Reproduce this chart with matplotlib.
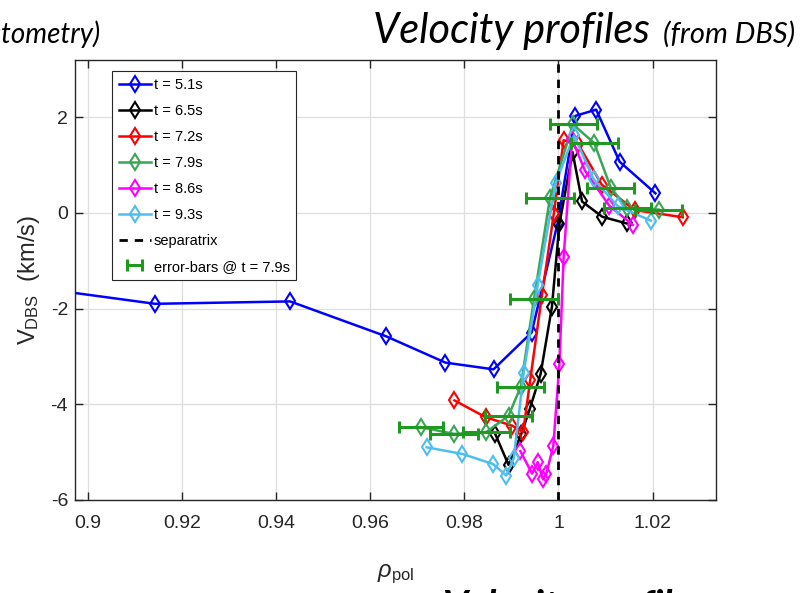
import matplotlib
matplotlib.use('Agg')
import matplotlib.pyplot as plt

# Velocity profiles from DBS, one series per time slice
rho_51 = [0.888, 0.9143, 0.9430, 0.9634, 0.9760, 0.9862, 0.9943, 0.9998, 1.0036, 1.0080, 1.0130, 1.0206]
v_51 = [-1.55, -1.90, -1.85, -2.58, -3.13, -3.27, -2.50, -0.22, 2.03, 2.16, 1.07, 0.41]

rho_65 = [0.9866, 0.9894, 0.9921, 0.9939, 0.9962, 0.9986, 1.0002, 1.0030, 1.0050, 1.0093, 1.0145]
v_65 = [-4.63, -5.27, -4.62, -4.10, -3.37, -1.97, -0.23, 1.27, 0.24, -0.08, -0.22]

rho_72 = [0.9779, 0.9845, 0.9902, 0.9925, 0.9940, 0.9965, 0.9990, 1.0011, 1.0042, 1.0092, 1.0162, 1.0264]
v_72 = [-3.92, -4.27, -4.45, -4.58, -3.49, -1.71, -0.02, 1.52, 1.44, 0.59, 0.06, -0.09]

rho_79 = [0.9708, 0.9778, 0.9847, 0.9894, 0.9920, 0.9948, 0.9982, 1.0031, 1.0076, 1.0111, 1.0146, 1.0213]
v_79 = [-4.48, -4.62, -4.58, -4.24, -3.63, -1.80, 0.32, 1.85, 1.46, 0.53, 0.10, 0.07]
err_79 = [0.0047, 0.005, 0.005, 0.005, 0.005, 0.005, 0.005, 0.005, 0.005, 0.005, 0.005, 0.005]

rho_86 = [0.9919, 0.9944, 0.9956, 0.9967, 0.9974, 0.9989, 1.0002, 1.0011, 1.0029, 1.0056, 1.0108, 1.0158]
v_86 = [-4.98, -5.45, -5.21, -5.57, -5.46, -4.87, -3.16, -0.92, 1.54, 0.89, 0.15, -0.25]

rho_93 = [0.9720, 0.9796, 0.9861, 0.9889, 0.9905, 0.9926, 0.9956, 0.9994, 1.0033, 1.0075, 1.0126, 1.0196]
v_93 = [-4.90, -5.04, -5.25, -5.49, -5.13, -3.35, -1.50, 0.63, 1.62, 0.70, 0.14, -0.16]

series = [
    (rho_51, v_51, '#0000ff', 't = 5.1s'),
    (rho_65, v_65, '#000000', 't = 6.5s'),
    (rho_72, v_72, '#ff0000', 't = 7.2s'),
    (rho_79, v_79, '#3aa655', 't = 7.9s'),
    (rho_86, v_86, '#ff00ff', 't = 8.6s'),
    (rho_93, v_93, '#4dbeee', 't = 9.3s'),
]

x_ticks = [0.9, 0.92, 0.94, 0.96, 0.98, 1.0, 1.02]
x_tick_labels = ['0.9', '0.92', '0.94', '0.96', '0.98', '1', '1.02']
y_ticks = [-6, -4, -2, 0, 2]

plt.rcParams['font.family'] = ['Liberation Sans', 'DejaVu Sans']
plt.rcParams['axes.unicode_minus'] = False
plt.rcParams['mathtext.fontset'] = 'custom'
plt.rcParams['mathtext.rm'] = 'Liberation Sans'
plt.rcParams['mathtext.it'] = 'Liberation Sans:italic'

fig = plt.figure(figsize=(8.02, 5.93), dpi=100)
ax = fig.add_axes([0.0935, 0.157, 0.7995, 0.742])

linestyle = {'linewidth': 1.8, 'marker': 'd', 'markersize': 8,
             'markerfacecolor': 'none', 'markeredgewidth': 1.5}

for rho, v, col, lab in series:
    ax.plot(rho, v, color=col, label=lab, **linestyle)

ax.axvline(1.0, color='black', linestyle=(0, (3, 2.5)), linewidth=2.0, label='separatrix')

ax.errorbar(rho_79, v_79, xerr=err_79, fmt='none', ecolor='#1f991f',
            elinewidth=2.2, capsize=4, capthick=2.2, label='error-bars @ t = 7.9s')

ax.set_xlim(0.8973, 1.0335)
ax.set_ylim(-6, 3.2)
ax.set_xticks(x_ticks)
ax.set_xticklabels(x_tick_labels)
ax.set_yticks(y_ticks)
ax.grid(True, color='#dedede', linewidth=0.9)
ax.set_axisbelow(True)
ax.tick_params(direction='in', length=6, width=1.0, top=True, right=True,
               labelsize=14, colors='#262626')
ax.tick_params(axis='x', pad=11)
ax.tick_params(axis='y', pad=5)
for sp in ax.spines.values():
    sp.set_color('#262626')
    sp.set_linewidth(1.0)

ax.set_ylabel(r'V$_{\mathregular{DBS}}$  (km/s)', fontsize=17, color='#262626', labelpad=6)
ax.set_xlabel(r'$\rho_{\mathregular{pol}}$', fontsize=17, color='#262626', labelpad=22)

leg = ax.legend(loc='upper left', bbox_to_anchor=(0.058, 0.974), fontsize=10.5,
                frameon=True, fancybox=False, framealpha=1, edgecolor='#262626',
                handlelength=2.2, handletextpad=0.2, borderpad=0.45,
                labelspacing=0.82, borderaxespad=0)
leg.get_frame().set_linewidth(0.8)

# slide titles around the plot
fig.text(0.465, 0.928, 'Velocity profiles', fontsize=30, style='italic',
         family='Lato', color='black')
fig.text(0.992, 0.928, '(from DBS)', fontsize=21, style='italic',
         family='Lato', color='black', ha='right')
fig.text(0.125, 0.928, '(from reflectometry)', fontsize=20, style='italic',
         family='Lato', color='black', ha='right')
fig.text(0.552, 0.006, 'Velocity profiles', fontsize=28, style='italic',
         weight='bold', family='Lato', color='black', va='top')

fig.savefig('out.png', dpi=100)
